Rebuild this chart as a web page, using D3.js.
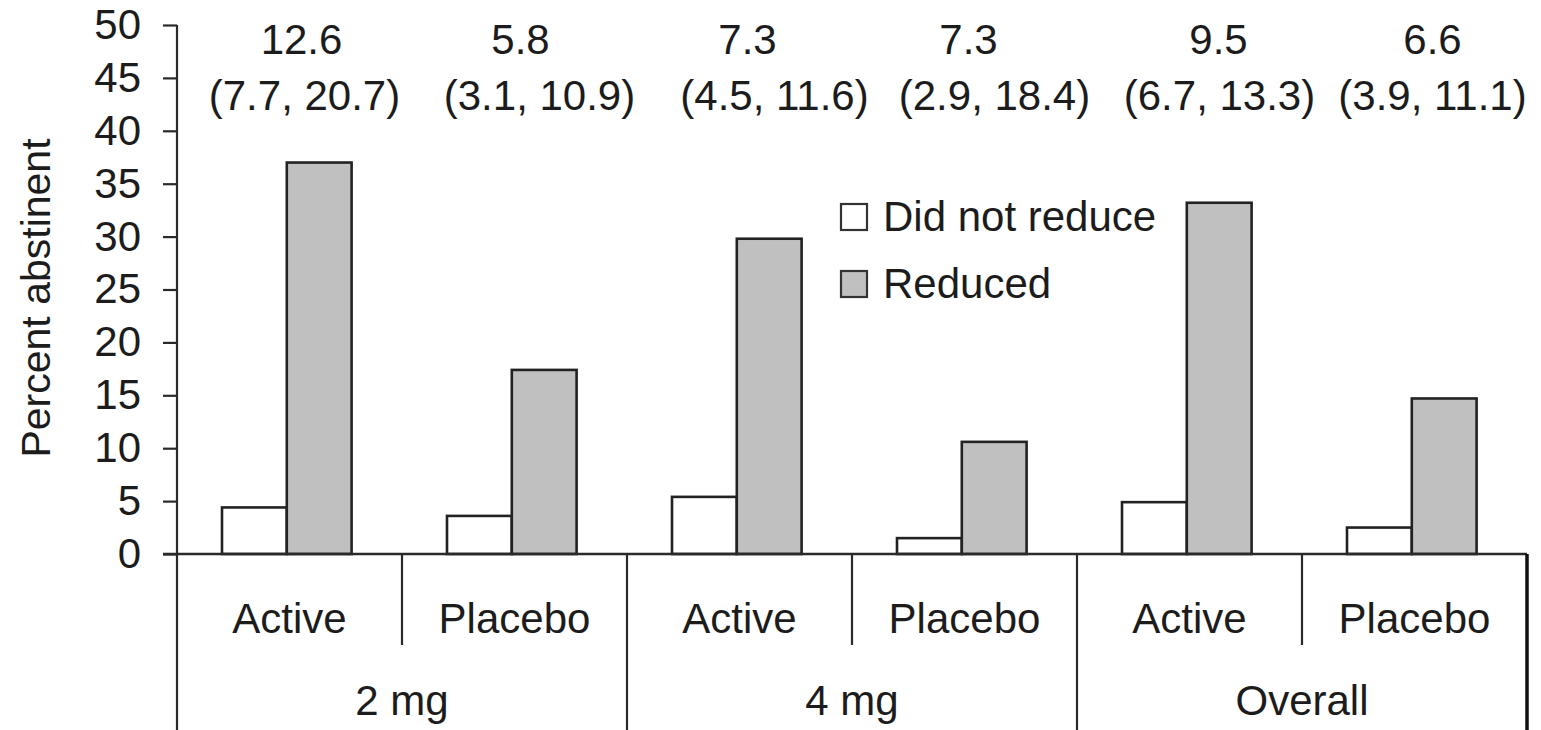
<!DOCTYPE html>
<html>
<head>
<meta charset="utf-8">
<script src="https://cdn.jsdelivr.net/npm/d3@7"></script>
<style>
  html, body { margin: 0; padding: 0; background: #fff; }
  svg { display: block; }
  text { font-family: "Liberation Sans", Arial, Helvetica, sans-serif; fill: #1c1c1c; }
</style>
</head>
<body>
<svg id="chart" width="1541" height="730"></svg>
<script>
// Abstinence by reduction status, per treatment arm and dose
const groups = ["2 mg", "4 mg", "Overall"];
const arms = ["Active", "Placebo", "Active", "Placebo", "Active", "Placebo"];
const series = ["Did not reduce", "Reduced"];
const didNotReduce = [4.4, 3.6, 5.4, 1.5, 4.9, 2.5];
const reduced = [37.0, 17.4, 29.8, 10.6, 33.2, 14.7];
const oddsRatios = ["12.6", "5.8", "7.3", "7.3", "9.5", "6.6"];
const confIntervals = ["(7.7, 20.7)", "(3.1, 10.9)", "(4.5, 11.6)", "(2.9, 18.4)", "(6.7, 13.3)", "(3.9, 11.1)"];
const yTicks = [0, 5, 10, 15, 20, 25, 30, 35, 40, 45, 50];

// layout
const W = 1541, H = 730;
const plotLeft = 177, plotRight = 1527, plotTop = 25, plotBase = 554;
const fontSize = 42;
const lineColor = "#2a2a2a";
const fills = { "Did not reduce": "#ffffff", "Reduced": "#c0c0c0" };
// small horizontal nudges for the annotation text above each arm
const ratioNudge = [12, 6, 8, 4, 29, 18];
const ciNudge = [15, 25, 35, 30, 30, 18];

const svg = d3.select("#chart");

const idx = d3.range(arms.length);
const x0 = d3.scaleBand().domain(idx).range([plotLeft, plotRight]).padding(0);
const x1 = d3.scaleBand().domain(series)
  .range([x0.bandwidth() * 0.2, x0.bandwidth() * 0.776]).padding(0);
const y = d3.scaleLinear().domain([0, 50]).range([plotBase, plotTop]);

const rows = idx.map(i => ({ i, values: [
  { key: series[0], v: didNotReduce[i] },
  { key: series[1], v: reduced[i] }
]}));

// bars
const gBars = svg.append("g");
gBars.selectAll("g.arm").data(rows).join("g")
  .attr("class", "arm")
  .attr("transform", d => `translate(${x0(d.i)},0)`)
  .selectAll("rect").data(d => d.values).join("rect")
  .attr("x", d => x1(d.key))
  .attr("width", x1.bandwidth())
  .attr("y", d => y(d.v))
  .attr("height", d => y(0) - y(d.v))
  .attr("fill", d => fills[d.key])
  .attr("stroke", "#222")
  .attr("stroke-width", 2.6);

// y axis
const yAxis = d3.axisLeft(y).tickValues(yTicks).tickSize(14).tickPadding(22);
const gy = svg.append("g").attr("transform", `translate(${plotLeft},0)`).call(yAxis);
gy.select(".domain").remove();
gy.selectAll(".tick line").attr("stroke", lineColor).attr("stroke-width", 2.2);
gy.selectAll(".tick text").style("font-size", fontSize + "px").attr("fill", "#1c1c1c");

// axis lines
svg.append("line").attr("x1", plotLeft).attr("x2", plotLeft).attr("y1", plotTop).attr("y2", H)
  .attr("stroke", lineColor).attr("stroke-width", 2.2);
svg.append("line").attr("x1", plotLeft - 14).attr("x2", plotRight).attr("y1", plotBase).attr("y2", plotBase)
  .attr("stroke", lineColor).attr("stroke-width", 2.4);

// category dividers: arm separators (short) and group separators (full)
idx.slice(1).forEach(i => {
  const full = i % 2 === 0;
  svg.append("line")
    .attr("x1", x0(i)).attr("x2", x0(i))
    .attr("y1", plotBase).attr("y2", full ? H : 645)
    .attr("stroke", lineColor).attr("stroke-width", 2.2);
});
svg.append("line").attr("x1", plotRight).attr("x2", plotRight).attr("y1", plotBase).attr("y2", H)
  .attr("stroke", "#111").attr("stroke-width", 3.5);

// arm labels
svg.append("g").selectAll("text").data(idx).join("text")
  .attr("x", i => x0(i) + x0.bandwidth() / 2)
  .attr("y", 633)
  .attr("text-anchor", "middle")
  .style("font-size", fontSize + "px")
  .text(i => arms[i]);

// group labels
const xg = d3.scaleBand().domain(groups).range([plotLeft, plotRight]);
svg.append("g").selectAll("text").data(groups).join("text")
  .attr("x", g => xg(g) + xg.bandwidth() / 2)
  .attr("y", 715)
  .attr("text-anchor", "middle")
  .style("font-size", fontSize + "px")
  .text(g => g);

// odds ratio annotations above each arm
svg.append("clipPath").attr("id", "annClip")
  .append("rect").attr("x", 0).attr("y", 0).attr("width", 1530).attr("height", H);
const gAnn = svg.append("g").attr("clip-path", "url(#annClip)");
gAnn.selectAll("text.or").data(idx).join("text")
  .attr("class", "or")
  .attr("x", i => x0(i) + x0.bandwidth() / 2 + ratioNudge[i])
  .attr("y", 54)
  .attr("text-anchor", "middle")
  .style("font-size", fontSize + "px")
  .text(i => oddsRatios[i]);
gAnn.selectAll("text.ci").data(idx).join("text")
  .attr("class", "ci")
  .attr("x", i => x0(i) + x0.bandwidth() / 2 + ciNudge[i])
  .attr("y", 110)
  .attr("text-anchor", "middle")
  .style("font-size", fontSize + "px")
  .text(i => confIntervals[i]);

// y axis title
svg.append("text")
  .attr("transform", "translate(50,298) rotate(-90)")
  .attr("text-anchor", "middle")
  .style("font-size", "41px")
  .text("Percent abstinent");

// legend
const legend = svg.append("g").attr("transform", "translate(841,0)");
const legendRows = series.map((s, k) => ({ s, k }));
const ly = d3.scalePoint().domain(series).range([217, 284]);
legend.selectAll("rect").data(legendRows).join("rect")
  .attr("x", 0).attr("y", d => ly(d.s) - 13)
  .attr("width", 26).attr("height", 26)
  .attr("fill", d => fills[d.s])
  .attr("stroke", "#333").attr("stroke-width", 2.2);
legend.selectAll("text").data(legendRows).join("text")
  .attr("x", 42).attr("y", d => ly(d.s) + 14)
  .style("font-size", fontSize + "px")
  .text(d => d.s);
</script>
</body>
</html>
